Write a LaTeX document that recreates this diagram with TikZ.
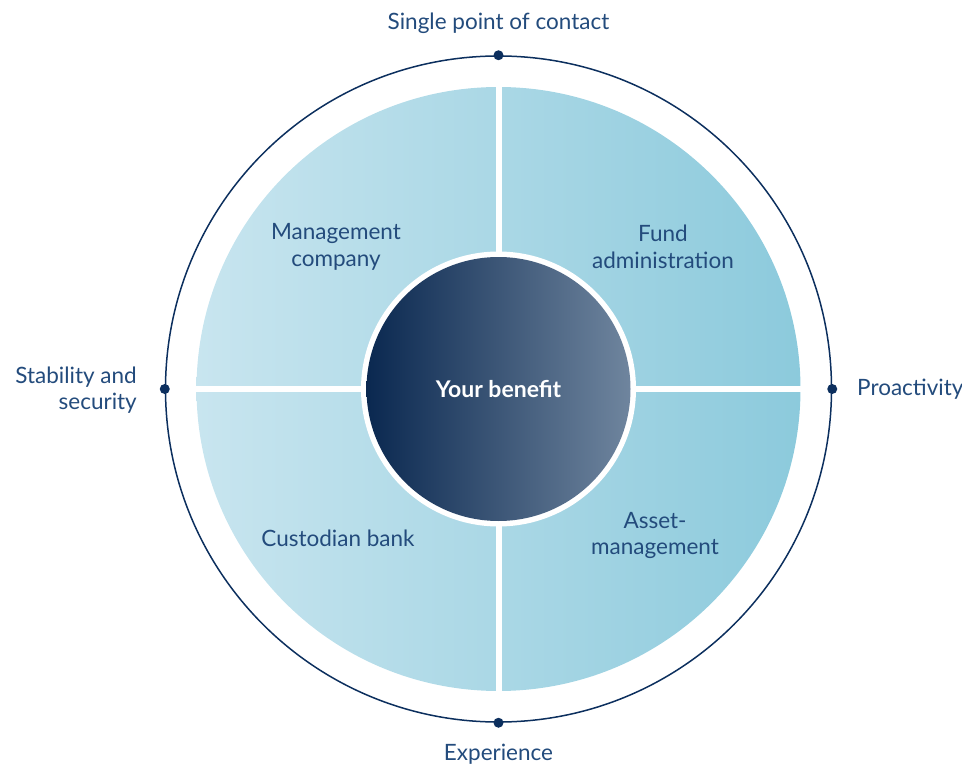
\documentclass[tikz,border=0pt]{standalone}
\usepackage{fontspec}
\setmainfont{Lato}
\usetikzlibrary{calc}
\definecolor{navy}{HTML}{0C2F5E}
\definecolor{txt}{HTML}{234B7C}
\definecolor{qL}{HTML}{C8E5EF}
\definecolor{qR}{HTML}{8CCADC}
\definecolor{cL}{HTML}{0A2850}
\definecolor{cR}{HTML}{6F859E}
\tikzset{
  lbl/.style={text=txt, font=\fontsize{22.5}{26.5}\selectfont, inner sep=0pt, align=center},
  dot/.style={circle, fill=navy, minimum size=10pt, inner sep=0pt},
}
\begin{document}
\begin{tikzpicture}[x=1pt,y=-1pt]
\useasboundingbox (0,0) rectangle (962,765);
\coordinate (O) at (498.5,389);
% outer ring
\node[circle, draw=navy, line width=1.5pt, minimum size=666pt, inner sep=0pt] (outer) at (O) {};
% quadrant disk
\shade[left color=qL, right color=qR] (O) circle (302pt);
\fill[white] ($(O)+(-3,-305)$) rectangle ($(O)+(3,305)$);
\fill[white] ($(O)+(-305,-3)$) rectangle ($(O)+(305,3)$);
% center
\node[circle, fill=white, minimum size=275pt, inner sep=0pt] (ring) at (O) {};
\node[circle, left color=cL, right color=cR, minimum size=264pt, inner sep=0pt,
      text=white, font=\fontsize{23}{27}\selectfont\bfseries] (core) at (O) {Your benefit};
% dots
\node[dot] (dn) at (outer.north) {};
\node[dot] (ds) at (outer.south) {};
\node[dot] (dw) at (outer.west) {};
\node[dot] (de) at (outer.east) {};
% outer labels
\node[lbl] (tn) at (498.5,23.5) {Single point of contact};
\node[lbl] (ts) at (498.5,754) {Experience};
\node[lbl, anchor=east, align=right] (tw) at (137,390) {Stability and\\security};
\node[lbl, anchor=west] (te) at (857,389) {Proactivity};
% quadrant labels
\node[lbl] (q1) at (336,247) {Management\\company};
\node[lbl] (q2) at (663,247) {Fund\\administration};
\node[lbl] (q3) at (338,538) {Custodian bank};
\node[lbl] (q4) at (655,535.5) {Asset-\\management};
\end{tikzpicture}
\end{document}
